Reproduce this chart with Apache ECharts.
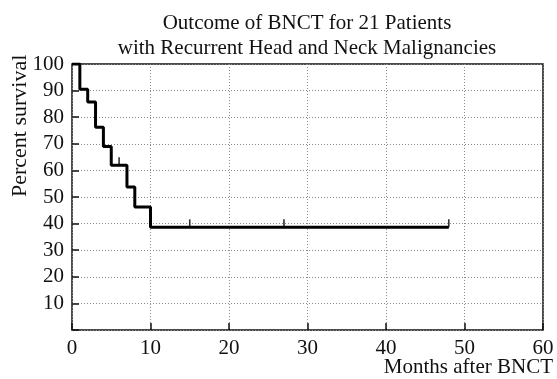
<!DOCTYPE html>
<html>
<head>
<meta charset="utf-8">
<script src="https://cdn.jsdelivr.net/npm/echarts@6/dist/echarts.min.js"></script>
<style>
  html, body { margin: 0; padding: 0; background: #fff; }
  #chart { width: 557px; height: 379px; }
</style>
</head>
<body>
<div id="chart"></div>
<script>
// Kaplan-Meier survival curve after BNCT
const months   = [0, 1, 2, 3, 4, 5, 7, 8, 10, 48];
const survival = [100, 90.5, 85.7, 76.2, 69.0, 61.9, 53.8, 46.2, 38.6, 38.6];

// censored observations (month, survival level)
const censorMonths = [6, 15, 27, 48];
const censorLevels = [61.9, 38.6, 38.6, 38.6];

const xTicks = [0, 10, 20, 30, 40, 50, 60];
const yTicks = [10, 20, 30, 40, 50, 60, 70, 80, 90, 100];

const titleLines = ['Outcome of BNCT for 21 Patients', 'with Recurrent Head and Neck Malignancies'];
const xName = 'Months after BNCT';
const yName = 'Percent survival';

const FONT = '"Liberation Serif", "DejaVu Serif", serif';
const INK = '#111';

const chart = echarts.init(document.getElementById('chart'));

const curve = months.map((m, i) => [m, survival[i]]);
const censored = censorMonths.map((m, i) => [m, censorLevels[i]]);

chart.setOption({
  animation: false,
  backgroundColor: '#fff',
  title: {
    text: titleLines.join('\n'),
    left: 302,
    top: 6,
    textAlign: 'center',
    textStyle: { fontFamily: FONT, fontSize: 21, fontWeight: 'normal', color: INK, lineHeight: 25 }
  },
  grid: {
    left: 72, right: 14, top: 64, bottom: 49,
    show: true, borderColor: INK, borderWidth: 1.5, backgroundColor: 'transparent'
  },
  xAxis: {
    type: 'value',
    min: 0, max: 60, interval: 10,
    axisLine: { show: false },
    axisTick: { show: true, inside: true, length: 7, lineStyle: { color: INK, width: 1.5 } },
    axisLabel: {
      margin: 8, fontFamily: FONT, fontSize: 21, color: INK,
      formatter: v => xTicks.includes(v) ? String(v) : ''
    },
    splitLine: { show: true, lineStyle: { color: '#8a8a8a', type: [1, 2], width: 1 } }
  },
  yAxis: {
    type: 'value',
    min: 0, max: 100, interval: 10,
    axisLine: { show: false },
    axisTick: { show: true, inside: true, length: 7, lineStyle: { color: INK, width: 1.5 } },
    axisLabel: {
      margin: 8, fontFamily: FONT, fontSize: 21, color: INK,
      formatter: v => yTicks.includes(v) ? String(v) : ''
    },
    splitLine: { show: true, lineStyle: { color: '#8a8a8a', type: [1, 2], width: 1 } }
  },
  graphic: [
    {
      type: 'text', right: 4, top: 357,
      style: { text: xName, fontFamily: FONT, fontSize: 21, fill: INK }
    },
    {
      type: 'text', x: 9, y: 197, rotation: Math.PI / 2,
      style: { text: yName, fontFamily: FONT, fontSize: 22, fill: INK, textAlign: 'left', textVerticalAlign: 'top' }
    }
  ],
  series: [
    {
      type: 'line',
      step: 'end',
      data: curve,
      symbol: 'none',
      lineStyle: { color: '#000', width: 3 },
      z: 3
    },
    {
      type: 'scatter',
      data: censored,
      symbol: 'rect',
      symbolSize: [1.6, 8],
      symbolOffset: [0, -4],
      itemStyle: { color: '#000' },
      z: 4
    }
  ]
});
</script>
</body>
</html>
